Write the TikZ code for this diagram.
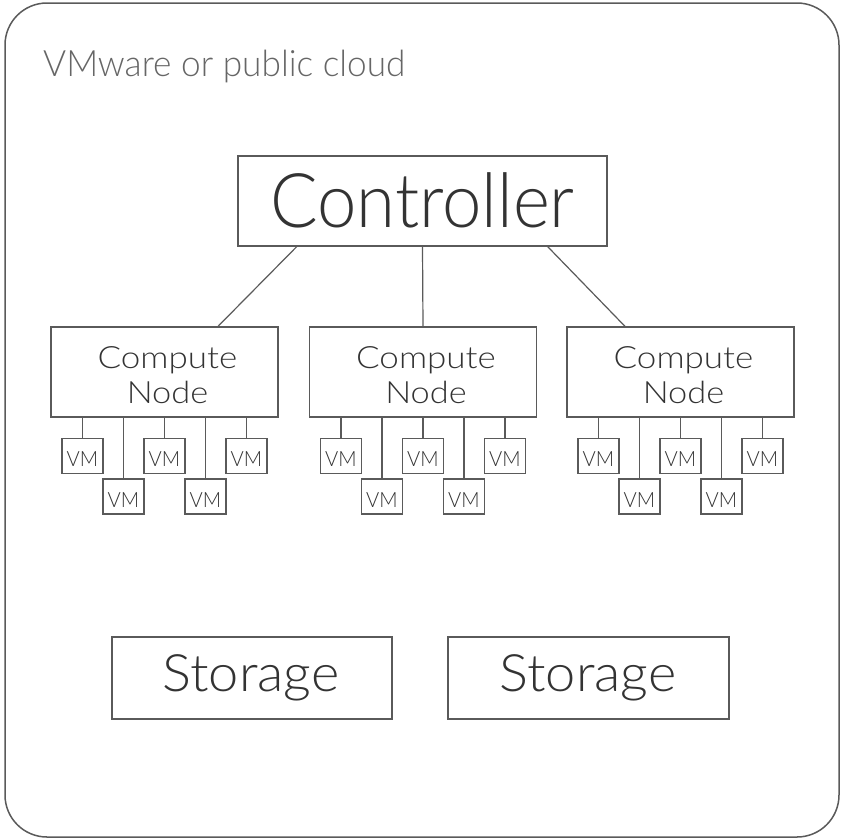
\documentclass[tikz,border=0pt]{standalone}
\usepackage{fontspec}
\IfFontExistsTF{Lato Light}{\setmainfont{Lato Light}}{\setmainfont{Carlito}}
\definecolor{linec}{HTML}{5A5A5A}
\definecolor{textc}{HTML}{333333}
\definecolor{titlec}{HTML}{666666}
\begin{document}
\begin{tikzpicture}[x=1pt,y=-1pt,
  box/.style={draw=linec,line width=1.3pt},
  conn/.style={draw=linec,line width=1.2pt},
  txt/.style={inner sep=0pt,anchor=base,text=textc},
]
\useasboundingbox (0,0) rectangle (841,839);
% outer
\draw[draw=linec,line width=1.5pt,rounded corners=42pt] (5,3) rectangle (839,837);
\node[inner sep=0pt,anchor=base west,text=titlec,font=\fontsize{36.3}{36.3}\selectfont] (title) at (43,76.7) {\scalebox{0.97}[1]{VMware or public cloud}};
% controller
\node[box,minimum width=369pt,minimum height=90pt,inner sep=0pt] (ctrl) at (422.5,201) {};
\node[txt,font=\fontsize{75.4}{75.4}\selectfont] (ctrlt) at (422.5,227) {\scalebox{0.937}[1]{Controller}};
% compute nodes
\foreach \i/\cx in {1/164.5,2/423,3/680.5}{
  \node[box,minimum width=227pt,minimum height=90pt,inner sep=0pt] (cn\i) at (\cx,372) {};
  \node[txt,font=\fontsize{30.7}{30.7}\selectfont] (cn\i a) at (\cx+3,368.3) {\scalebox{1.14}[1]{Compute}};
  \node[txt,font=\fontsize{30.7}{30.7}\selectfont] (cn\i b) at (\cx+3,403.3) {\scalebox{1.12}[1]{Node}};
  \foreach \j/\dx/\row in {1/-82/0,2/-41/1,3/0/0,4/41/1,5/82/0}{
    \pgfmathsetmacro{\vy}{\row==0 ? 456 : 496.5}
    \node[box,minimum width=41pt,minimum height=35pt,inner sep=0pt] (vm\i\j) at (\cx+\dx,\vy) {};
    \node[txt,font=\fontsize{21}{21}\selectfont] at ([yshift=-10.7pt]vm\i\j.center) {\scalebox{0.96}[1]{VM}};
    \coordinate (ct\i\j) at (\cx+\dx,417);
    \draw[conn] (ct\i\j) -- (vm\i\j.north);
  }
}
\draw[conn] (ctrl.south -| 296.7,0) -- (cn1.north -| 218,0);
\draw[conn] (ctrl.south) -- (cn2.north);
\draw[conn] (ctrl.south -| 547.7,0) -- (cn3.north -| 625,0);
% storage
\node[box,minimum width=280pt,minimum height=82pt,inner sep=0pt] (st1) at (252,678) {};
\node[box,minimum width=281pt,minimum height=82pt,inner sep=0pt] (st2) at (588.5,678) {};
\node[txt,font=\fontsize{51.6}{51.6}\selectfont] (st1t) at (251,691.7) {\scalebox{1.05}[1]{Storage}};
\node[txt,font=\fontsize{51.6}{51.6}\selectfont] (st2t) at (588,691.7) {\scalebox{1.05}[1]{Storage}};
\end{tikzpicture}
\end{document}
